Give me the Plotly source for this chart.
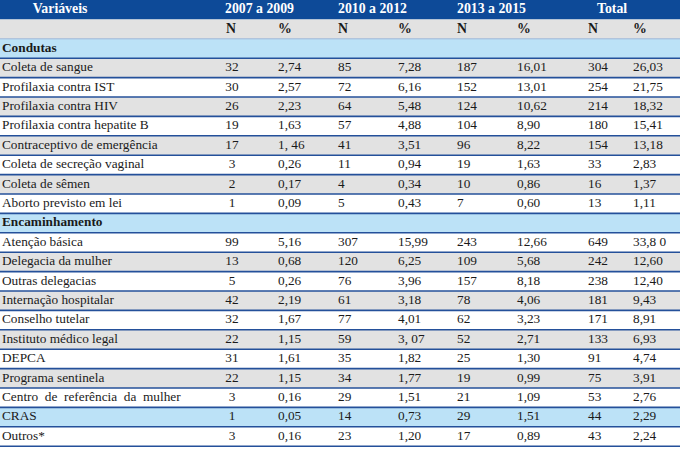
import plotly.graph_objects as go

# --- table data ---
periodos = ["2007 a 2009", "2010 a 2012", "2013 a 2015", "Total"]

condutas = ["Coleta de sangue", "Profilaxia contra IST", "Profilaxia contra HIV",
            "Profilaxia contra hepatite B", "Contraceptivo de emergência",
            "Coleta de secreção vaginal", "Coleta de sêmen", "Aborto previsto em lei"]
cond_n_2007 = [32, 30, 26, 19, 17, 3, 2, 1]
cond_p_2007 = ["2,74", "2,57", "2,23", "1,63", "1, 46", "0,26", "0,17", "0,09"]
cond_n_2010 = [85, 72, 64, 57, 41, 11, 4, 5]
cond_p_2010 = ["7,28", "6,16", "5,48", "4,88", "3,51", "0,94", "0,34", "0,43"]
cond_n_2013 = [187, 152, 124, 104, 96, 19, 10, 7]
cond_p_2013 = ["16,01", "13,01", "10,62", "8,90", "8,22", "1,63", "0,86", "0,60"]
cond_n_total = [304, 254, 214, 180, 154, 33, 16, 13]
cond_p_total = ["26,03", "21,75", "18,32", "15,41", "13,18", "2,83", "1,37", "1,11"]

encaminhamento = ["Atenção básica", "Delegacia da mulher", "Outras delegacias",
                  "Internação hospitalar", "Conselho tutelar", "Instituto médico legal",
                  "DEPCA", "Programa sentinela",
                  "Centro\u00a0 de\u00a0 referência\u00a0 da\u00a0 mulher", "CRAS", "Outros*"]
enc_n_2007 = [99, 13, 5, 42, 32, 22, 31, 22, 3, 1, 3]
enc_p_2007 = ["5,16", "0,68", "0,26", "2,19", "1,67", "1,15", "1,61", "1,15", "0,16", "0,05", "0,16"]
enc_n_2010 = [307, 120, 76, 61, 77, 59, 35, 34, 29, 14, 23]
enc_p_2010 = ["15,99", "6,25", "3,96", "3,18", "4,01", "3, 07", "1,82", "1,77", "1,51", "0,73", "1,20"]
enc_n_2013 = [243, 109, 157, 78, 62, 52, 25, 19, 21, 29, 17]
enc_p_2013 = ["12,66", "5,68", "8,18", "4,06", "3,23", "2,71", "1,30", "0,99", "1,09", "1,51", "0,89"]
enc_n_total = [649, 242, 238, 181, 171, 133, 91, 75, 53, 44, 43]
enc_p_total = ["33,8 0", "12,60", "12,40", "9,43", "8,91", "6,93", "4,74", "3,91", "2,76", "2,29", "2,24"]

# --- styling ---
FONT = "Liberation Serif"
FS = 13.3
HEAD_BLUE = "#0d4a98"
SECTION_BLUE = "#bce2f7"
GRAY = "#e2e2e2"
LINE = "#24509a"
TXT = "#1a1a1a"
ROW_H = 19.4

# build row list: (kind, label, values)
rows = [("head", "Variáveis", periodos), ("sub", "", ["N", "%"] * 4),
        ("section", "Condutas", None)]
for i, lab in enumerate(condutas):
    rows.append(("data", lab, [cond_n_2007[i], cond_p_2007[i], cond_n_2010[i], cond_p_2010[i],
                               cond_n_2013[i], cond_p_2013[i], cond_n_total[i], cond_p_total[i]]))
rows.append(("section", "Encaminhamento", None))
for i, lab in enumerate(encaminhamento):
    rows.append(("data", lab, [enc_n_2007[i], enc_p_2007[i], enc_n_2010[i], enc_p_2010[i],
                               enc_n_2013[i], enc_p_2013[i], enc_n_total[i], enc_p_total[i]]))

col_x = [226, 278, 338, 398, 457, 517, 588, 633]
head_x = [225, 338, 457, 597]

fig = go.Figure()
shapes = []
left_x, left_y, left_t = [], [], []

for r, (kind, lab, vals) in enumerate(rows):
    y0, y1 = r * ROW_H, (r + 1) * ROW_H
    ym = (y0 + y1) / 2
    if kind == "head":
        fill = HEAD_BLUE
    elif kind == "section" or lab == "CRAS":
        fill = SECTION_BLUE
    elif r % 2 == 1:
        fill = GRAY
    else:
        fill = "white"
    shapes.append(dict(type="rect", xref="x", yref="y", x0=0, x1=680, y0=y0, y1=y1,
                       fillcolor=fill, line=dict(width=0), layer="below"))
    if r >= 2:
        shapes.append(dict(type="line", xref="x", yref="y", x0=0, x1=680, y0=y1, y1=y1,
                           line=dict(color=LINE, width=1.6)))
    if kind == "head":
        fig.add_trace(go.Scatter(x=[60] + head_x, y=[ym] * 5, mode="text",
                                 text=["<b>%s</b>" % lab] + ["<b>%s</b>" % v for v in vals],
                                 textposition=["middle center"] + ["middle right"] * 4,
                                 textfont=dict(family=FONT, size=FS + 0.5, color="white"),
                                 hoverinfo="skip"))
    elif kind == "sub":
        fig.add_trace(go.Scatter(x=col_x, y=[ym] * 8, mode="text",
                                 text=["<b>%s</b>" % v for v in vals], textposition="middle right",
                                 textfont=dict(family=FONT, size=FS + 0.5, color=TXT), hoverinfo="skip"))
    elif kind == "section":
        left_x.append(2); left_y.append(ym); left_t.append("<b>%s</b>" % lab)
    else:
        left_x.append(2); left_y.append(ym); left_t.append(lab)
        xs = [232] + col_x[1:]
        fig.add_trace(go.Scatter(x=xs, y=[ym] * 8, mode="text", text=[str(v) for v in vals],
                                 textposition=["middle center"] + ["middle right"] * 7,
                                 textfont=dict(family=FONT, size=FS, color=TXT), hoverinfo="skip"))

fig.add_trace(go.Scatter(x=left_x, y=left_y, mode="text", text=left_t, textposition="middle right",
                         textfont=dict(family=FONT, size=FS, color=TXT), hoverinfo="skip"))

# faint rule between sub-header and first section
shapes.append(dict(type="line", xref="x", yref="y", x0=0, x1=680, y0=2 * ROW_H, y1=2 * ROW_H,
                   line=dict(color="#9fb6d6", width=1)))

fig.update_layout(width=680, height=450, margin=dict(l=0, r=0, t=0, b=0),
                  paper_bgcolor="white", plot_bgcolor="white", showlegend=False,
                  shapes=shapes,
                  xaxis=dict(range=[0, 680], visible=False, fixedrange=True),
                  yaxis=dict(range=[450, 0], visible=False, fixedrange=True))
fig.write_html("out.html", config={"displayModeBar": False},
               post_script="document.body.style.margin='0';")
